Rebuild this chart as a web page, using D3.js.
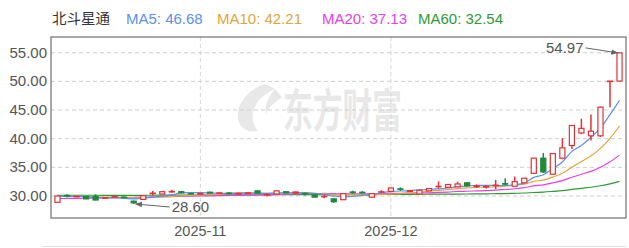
<!DOCTYPE html>
<html>
<head>
<meta charset="utf-8">
<script src="https://cdn.jsdelivr.net/npm/d3@7/dist/d3.min.js"></script>
<style>
body{margin:0;background:#fff;}
svg{display:block;font-family:Arial,"Liberation Sans",sans-serif;}
</style>
</head>
<body>
<div id="chart"></div>
<script>
// 数据
const stockName = '北斗星通'
const dates = [
  '2025-10-13','2025-10-14','2025-10-15','2025-10-16','2025-10-17','2025-10-20','2025-10-21','2025-10-22','2025-10-23','2025-10-24',
  '2025-10-27','2025-10-28','2025-10-29','2025-10-30','2025-10-31','2025-11-03','2025-11-04','2025-11-05','2025-11-06','2025-11-07',
  '2025-11-10','2025-11-11','2025-11-12','2025-11-13','2025-11-14','2025-11-17','2025-11-18','2025-11-19','2025-11-20','2025-11-21',
  '2025-11-24','2025-11-25','2025-11-26','2025-11-27','2025-11-28','2025-12-01','2025-12-02','2025-12-03','2025-12-04','2025-12-05',
  '2025-12-08','2025-12-09','2025-12-10','2025-12-11','2025-12-12','2025-12-15','2025-12-16','2025-12-17','2025-12-18','2025-12-19',
  '2025-12-22','2025-12-23','2025-12-24','2025-12-25','2025-12-26','2025-12-29','2025-12-30','2025-12-31','2026-01-05','2026-01-06'
]
const open = [
  28.90,30.10,29.85,29.90,29.90,29.60,29.85,29.80,29.10,29.40,
  30.40,30.35,30.70,30.75,30.45,30.30,30.65,30.50,30.50,30.40,
  30.50,30.90,30.20,30.35,30.75,30.50,30.45,30.20,29.90,29.50,
  29.35,30.70,30.65,29.80,30.70,30.80,31.25,30.80,30.35,30.90,
  31.65,31.50,31.60,32.30,31.70,31.60,31.85,32.15,31.70,32.30,
  33.95,36.60,33.80,36.60,38.80,41.00,40.50,40.50,50.05,50.05
]
const close = [
  30.00,30.00,29.95,29.50,29.30,29.70,29.90,29.70,28.80,30.05,
  30.50,30.75,30.80,30.55,30.35,30.45,30.50,30.55,30.45,30.45,
  30.55,30.50,30.25,30.90,30.55,30.70,30.35,29.80,29.95,29.00,
  30.40,30.60,30.60,30.40,30.75,31.40,31.20,30.95,31.00,31.30,
  31.70,32.00,32.10,31.75,31.75,31.65,31.90,32.10,32.50,33.10,
  36.60,34.20,37.40,38.40,42.30,41.80,41.30,45.50,50.05,54.97
]
const high = [
  30.05,30.30,30.00,29.95,30.30,29.80,30.10,29.85,29.20,30.10,
  30.90,30.85,31.10,30.85,30.50,30.50,30.80,30.60,30.70,30.60,
  30.70,30.95,30.50,31.00,30.80,30.80,30.60,30.25,30.20,29.60,
  30.45,30.90,30.85,30.50,31.00,31.45,31.50,31.05,31.10,31.40,
  32.55,32.10,32.50,32.40,32.00,31.90,32.80,33.10,33.40,33.15,
  36.65,37.50,37.50,40.10,42.40,43.50,44.20,45.60,50.05,54.97
]
const low = [
  28.85,29.80,29.80,29.45,29.20,29.50,29.70,29.60,28.60,29.30,
  30.10,30.30,30.60,30.50,30.30,30.25,30.45,30.40,30.30,30.20,
  30.35,30.45,29.90,30.30,30.50,30.45,30.10,29.75,29.60,28.80,
  29.30,30.40,30.40,29.70,30.50,30.75,30.90,30.70,30.30,30.85,
  31.30,31.45,31.55,31.70,31.40,31.30,31.20,31.90,31.65,32.25,
  33.90,34.00,33.70,36.40,38.20,40.80,39.70,40.30,45.50,50.00
]
const ma5 = [
  29.92,29.94,29.95,29.87,29.75,29.69,29.67,29.62,29.48,29.63,
  29.79,29.96,30.18,30.53,30.59,30.58,30.53,30.48,30.46,30.48,
  30.50,30.50,30.44,30.53,30.55,30.58,30.55,30.46,30.27,29.96,
  29.90,29.95,30.11,30.20,30.55,30.75,30.87,30.94,31.06,31.17,
  31.23,31.39,31.62,31.77,31.86,31.85,31.83,31.83,31.98,32.25,
  33.24,33.70,34.76,35.94,37.78,38.82,40.24,41.86,44.19,46.68
]
const ma10 = [
  29.91,29.92,29.93,29.89,29.83,29.80,29.81,29.79,29.68,29.69,
  29.74,29.82,29.90,30.01,30.11,30.19,30.25,30.33,30.50,30.54,
  30.54,30.52,30.46,30.50,30.52,30.54,30.53,30.45,30.40,30.26,
  30.24,30.25,30.29,30.24,30.26,30.33,30.41,30.53,30.63,30.86,
  30.99,31.13,31.28,31.42,31.52,31.54,31.61,31.73,31.88,32.06,
  32.55,32.77,33.30,33.96,35.02,36.03,36.97,38.31,40.07,42.21
]
const ma20 = [
  29.55,29.57,29.59,29.61,29.63,29.66,29.69,29.72,29.75,29.79,
  29.83,29.87,29.92,29.95,29.97,30.00,30.03,30.06,30.09,30.12,
  30.14,30.17,30.18,30.26,30.32,30.37,30.39,30.39,30.45,30.40,
  30.39,30.39,30.38,30.37,30.39,30.44,30.47,30.49,30.52,30.56,
  30.62,30.69,30.79,30.83,30.89,30.94,31.01,31.13,31.26,31.46,
  31.77,31.95,32.29,32.69,33.27,33.79,34.29,35.02,35.98,37.13
]
const ma60 = [
  30.12,30.13,30.13,30.13,30.13,30.12,30.12,30.12,30.11,30.12,
  30.13,30.14,30.15,30.16,30.17,30.18,30.18,30.19,30.19,30.20,
  30.20,30.21,30.21,30.22,30.22,30.23,30.23,30.23,30.23,30.22,
  30.23,30.24,30.24,30.25,30.26,30.27,30.28,30.29,30.30,30.31,
  30.32,30.33,30.34,30.35,30.36,30.38,30.40,30.43,30.47,30.52,
  30.61,30.68,30.80,30.94,31.14,31.34,31.53,31.79,32.12,32.54
]
const maNames = ['MA5','MA10','MA20','MA60']
const maLast = ['46.68','42.21','37.13','32.54']
const maColors = ['#5b8ff0','#e3a43a','#e83ee8','#2f9a35']
const yTicks = [30,35,40,45,50,55]
const monthLabels = ['2025-11','2025-12']

const W = 629, H = 248
const plotL = 51, plotR = 626, plotT = 37, plotB = 218
const upColor = '#e03434', downColor = '#1f8a3c'

const svg = d3.select('#chart').append('svg').attr('width',W).attr('height',H)

const x = d3.scaleBand().domain(dates).range([plotL,plotR]).padding(0.36)
const cx = d => x(d) + x.bandwidth()/2
const y = d3.scaleLinear().domain([26.16,57.74]).range([plotB,plotT])

// 水印
const wm = svg.append('g').attr('fill','#e8e8e8')
wm.append('path')
  .attr('d','M264,84 C248,90 236,104 238,119 C240,129 249,133 258,131 C251,123 251,112 257,103 C261,97 268,92 275,89 C269,96 264,105 266,114 C269,107 275,101 282,98 C278,91 272,86 264,84 Z')
wm.append('text').text('东方财富')
  .attr('x',283).attr('y',127)
  .attr('font-size',46).attr('font-weight','bold')
  .attr('font-family','"Noto Sans CJK SC",sans-serif')
  .attr('textLength',119).attr('lengthAdjust','spacingAndGlyphs')

// 网格
const grid = svg.append('g')
grid.selectAll('.hg').data(yTicks).enter().append('line')
  .attr('x1',plotL).attr('x2',plotR)
  .attr('y1',d => y(d)).attr('y2',d => y(d))
  .attr('stroke','#cfcfcf').attr('stroke-dasharray','4,3')
const monthIdx = monthLabels.map(m => dates.find(d => d.startsWith(m)))
grid.selectAll('.vg').data(monthIdx).enter().append('line')
  .attr('x1',d => cx(d)).attr('x2',d => cx(d))
  .attr('y1',plotT).attr('y2',plotB)
  .attr('stroke','#d6d6d6').attr('stroke-dasharray','4,3')

// 坐标文字
svg.append('g').selectAll('text').data(yTicks).enter().append('text')
  .text(d => d.toFixed(2))
  .attr('x',47).attr('y',d => y(d) + 5)
  .attr('text-anchor','end').attr('font-size',15).attr('fill','#555')
svg.append('g').selectAll('text').data(monthIdx).enter().append('text')
  .text((d,i) => monthLabels[i])
  .attr('x',d => cx(d)).attr('y',236)
  .attr('text-anchor','middle').attr('font-size',14.5).attr('fill','#555')

// 均线
const clip = svg.append('clipPath').attr('id','plot')
clip.append('rect').attr('x',plotL).attr('y',plotT).attr('width',plotR-plotL).attr('height',plotB-plotT)
const lines = svg.append('g').attr('clip-path','url(#plot)')
const lineGen = d3.line().x((d,i) => cx(dates[i])).y(d => y(d)).curve(d3.curveMonotoneX)
;[ma60,ma20,ma10,ma5].forEach((s,k) => {
  lines.append('path').datum(s)
    .attr('d',lineGen)
    .attr('fill','none')
    .attr('stroke',maColors[3-k])
    .attr('stroke-width',1.2)
})

// K线
const candles = svg.append('g').selectAll('g').data(dates).enter().append('g')
const col = i => close[i] >= open[i] ? upColor : downColor
candles.append('line')
  .attr('x1',d => cx(d)).attr('x2',d => cx(d))
  .attr('y1',(d,i) => y(high[i])).attr('y2',(d,i) => y(low[i]))
  .attr('stroke',(d,i) => col(i)).attr('stroke-width',1.5)
candles.append('rect')
  .attr('x',d => x(d)+0.5)
  .attr('width',x.bandwidth()-1)
  .attr('y',(d,i) => y(Math.max(open[i],close[i])))
  .attr('height',(d,i) => Math.max(0.5, Math.abs(y(open[i]) - y(close[i]))))
  .attr('fill',(d,i) => close[i] >= open[i] ? '#fff' : downColor)
  .attr('stroke',(d,i) => col(i)).attr('stroke-width',1.2)

// 边框
svg.append('rect').attr('x',plotL).attr('y',plotT).attr('width',plotR-plotL).attr('height',plotB-plotT)
  .attr('fill','none').attr('stroke','#707070').attr('stroke-width',1.2)
svg.append('line').attr('x1',42).attr('x2',626).attr('y1',246.5).attr('y2',246.5)
  .attr('stroke','#e2e2e2')

// 最高最低标注
svg.append('defs').append('marker').attr('id','arr')
  .attr('viewBox','0 0 10 10').attr('refX',9).attr('refY',5)
  .attr('markerWidth',7).attr('markerHeight',7).attr('orient','auto')
  .append('path').attr('d','M0,1 L10,5 L0,9 Z').attr('fill','#666')
const minI = d3.minIndex(low), maxI = d3.maxIndex(high)
const mark = (i, v, dx, dy, anchor) => {
  const px = cx(dates[i]), py = y(v)
  svg.append('line')
    .attr('x1',px + dx).attr('y1',py + dy)
    .attr('x2',px + (dx > 0 ? 2 : -2)).attr('y2',py)
    .attr('stroke','#666').attr('stroke-width',1)
    .attr('marker-end','url(#arr)')
  svg.append('text').text(v.toFixed(2))
    .attr('x',px + dx + (dx > 0 ? 2 : -2)).attr('y',py + dy + 5)
    .attr('text-anchor',anchor)
    .attr('font-size',15).attr('fill','#555')
}
mark(minI, low[minI], 36, 3, 'start')
mark(maxI, high[maxI], -34, -5, 'end')

// 图例
const lg = svg.append('g').attr('font-size',15)
lg.append('text').text(stockName).attr('x',52).attr('y',24).attr('fill','#333')
  .attr('font-family','"Noto Sans CJK SC",sans-serif').attr('font-size',14.5)
const lgX = [126,217,322,418]
maNames.forEach((n,i) => {
  lg.append('text').text(`${n}: ${maLast[i]}`)
    .attr('x',lgX[i]).attr('y',24).attr('fill',maColors[i])
})
</script>
</body>
</html>
